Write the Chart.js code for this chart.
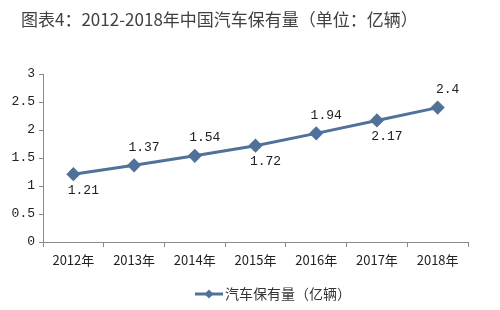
<!DOCTYPE html>
<html><head><meta charset="utf-8">
<script src="https://cdn.jsdelivr.net/npm/chart.js@4/dist/chart.umd.min.js"></script>
<style>html,body{margin:0;padding:0;background:#fff}#wrap{width:500px;height:310px}</style>
</head><body><div id="wrap"><canvas id="c" width="500" height="310"></canvas></div>
<script>
const titleText = '图表4：2012-2018年中国汽车保有量（单位：亿辆）';
const seriesName = '汽车保有量（亿辆）';
const categories = ['2012年','2013年','2014年','2015年','2016年','2017年','2018年'];
const values = [1.21, 1.37, 1.54, 1.72, 1.94, 2.17, 2.4];
const yTicks = [0, 0.5, 1, 1.5, 2, 2.5, 3];
const labelSide = ['below','above','above','below','above','below','above'];

const lineColor = '#50719a';
const axisColor = '#8a8a8a';

const deco = {
  id: 'deco',
  afterDraw(chart) {
    const ctx = chart.ctx;
    ctx.save();
    ctx.fillStyle = '#404040';
    ctx.font = '17px "Noto Sans CJK SC", sans-serif';
    ctx.textAlign = 'left';
    ctx.textBaseline = 'middle';
    ctx.fillText(titleText, 21, 20);
    const meta = chart.getDatasetMeta(0);
    ctx.fillStyle = '#222';
    ctx.font = '13px "Liberation Mono", monospace';
    ctx.textAlign = 'center';
    meta.data.forEach((pt, i) => {
      const dy = labelSide[i] === 'above' ? -18 : 16;
      ctx.fillText(String(values[i]), pt.x + 10, pt.y + dy);
    });
    const ly = 294, lx = 195;
    ctx.strokeStyle = lineColor;
    ctx.lineWidth = 3;
    ctx.beginPath(); ctx.moveTo(lx, ly); ctx.lineTo(lx + 28, ly); ctx.stroke();
    ctx.fillStyle = lineColor;
    ctx.beginPath();
    const cx = lx + 14, r = 4.5;
    ctx.moveTo(cx, ly - r); ctx.lineTo(cx + r, ly); ctx.lineTo(cx, ly + r); ctx.lineTo(cx - r, ly); ctx.closePath(); ctx.fill();
    ctx.fillStyle = '#333';
    ctx.font = '14px "Noto Sans CJK SC", sans-serif';
    ctx.textAlign = 'left';
    ctx.fillText(seriesName, lx + 30, ly);
    ctx.restore();
  }
};

new Chart(document.getElementById('c'), {
  type: 'line',
  data: {
    labels: categories,
    datasets: [{
      label: seriesName,
      data: values,
      borderColor: lineColor,
      backgroundColor: lineColor,
      borderWidth: 3,
      pointStyle: 'rectRot',
      pointRadius: 5,
      tension: 0
    }]
  },
  options: {
    responsive: false,
    animation: false,
    layout: { padding: { top: 74, right: 32, bottom: 38, left: 0 } },
    plugins: { legend: { display: false }, title: { display: false }, tooltip: { enabled: false } },
    scales: {
      x: {
        offset: true,
        grid: { display: true, offset: true, drawOnChartArea: false, drawTicks: true, tickLength: 5, color: axisColor },
        border: { color: axisColor, width: 1 },
        ticks: { color: '#222', font: { family: '"Noto Sans CJK SC", sans-serif', size: 13 }, padding: 5, maxRotation: 0, autoSkip: false },
        afterFit(s) { s.height = 30; }
      },
      y: {
        min: 0, max: 3,
        afterBuildTicks(s) { s.ticks = yTicks.map(v => ({ value: v })); },
        grid: { display: true, drawOnChartArea: false, drawTicks: true, tickLength: 4, color: axisColor },
        border: { color: axisColor, width: 1 },
        ticks: { color: '#222', font: { family: '"Liberation Mono", monospace', size: 13 }, padding: 4, callback: v => String(v) },
        afterFit(s) { s.width = 43; }
      }
    }
  },
  plugins: [deco]
});
</script></body></html>
